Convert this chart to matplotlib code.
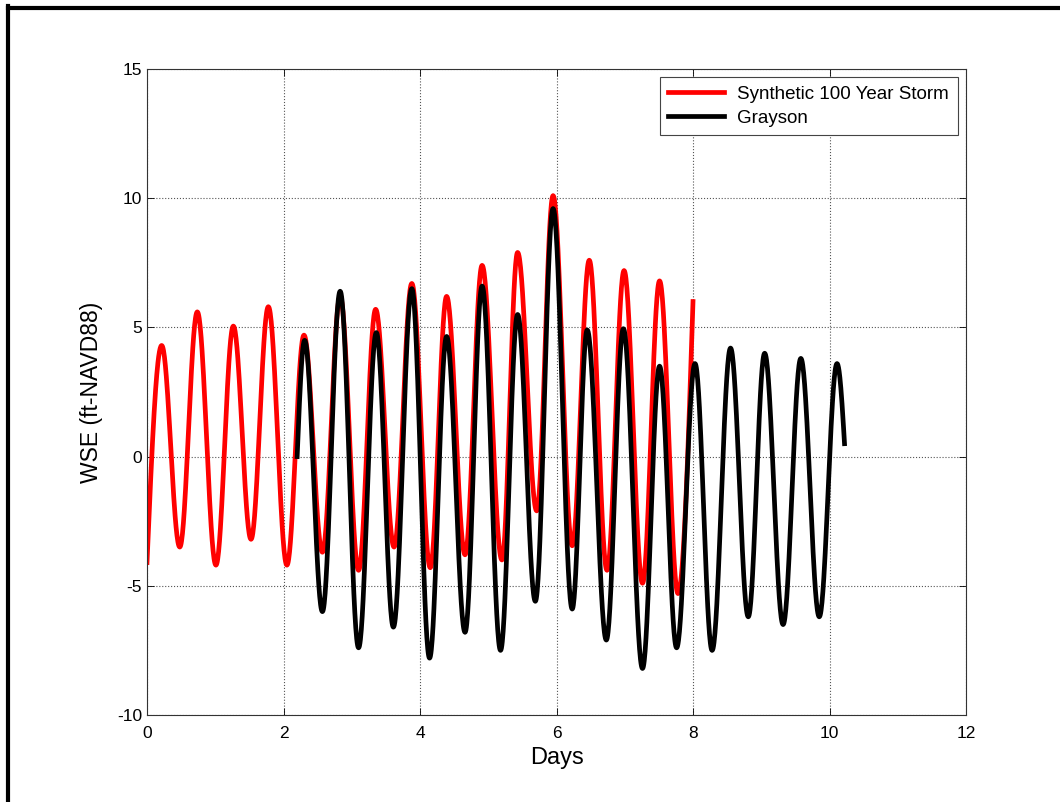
import numpy as np
import matplotlib
matplotlib.use('Agg')
import matplotlib.pyplot as plt
from matplotlib.lines import Line2D

plt.rcParams['font.family'] = ['Liberation Sans', 'DejaVu Sans']
plt.rcParams['axes.unicode_minus'] = False

# turning points (day, WSE ft-NAVD88)
storm_days = [0.0, 0.215, 0.48, 0.737, 1.01, 1.265, 1.524, 1.778, 2.05, 2.30, 2.57,
              2.83, 3.10, 3.35, 3.62, 3.88, 4.15, 4.39, 4.66, 4.91, 5.20, 5.43,
              5.71, 5.95, 6.23, 6.48, 6.74, 6.99, 7.26, 7.51, 7.78, 8.0]
storm_wse = [-4.1, 4.3, -3.5, 5.6, -4.2, 5.05, -3.2, 5.8, -4.2, 4.7, -3.7,
             6.2, -4.4, 5.7, -3.5, 6.7, -4.3, 6.2, -3.8, 7.4, -4.0, 7.9,
             -2.1, 10.1, -3.45, 7.6, -4.4, 7.2, -4.9, 6.8, -5.3, 6.0]

grayson_days = [2.2, 2.31, 2.57, 2.83, 3.10, 3.36, 3.61, 3.88, 4.14, 4.39, 4.66,
                4.91, 5.18, 5.43, 5.69, 5.95, 6.23, 6.45, 6.73, 6.98, 7.26, 7.51,
                7.76, 8.03, 8.28, 8.55, 8.81, 9.05, 9.32, 9.58, 9.85, 10.11, 10.22]
grayson_wse = [0.0, 4.5, -6.0, 6.4, -7.4, 4.8, -6.6, 6.5, -7.8, 4.65, -6.8,
               6.6, -7.5, 5.5, -5.6, 9.6, -5.9, 4.9, -7.1, 4.95, -8.2, 3.5,
               -7.4, 3.6, -7.5, 4.2, -6.2, 4.0, -6.5, 3.8, -6.2, 3.6, 0.5]


def tide_curve(days, wse, n=40):
    # smooth half-cosine between successive highs and lows
    xs, ys = [], []
    last = len(days) - 2
    for i in range(len(days) - 1):
        t0, t1 = days[i], days[i + 1]
        v0, v1 = wse[i], wse[i + 1]
        s = np.linspace(0, 1, n)
        if i == 0:
            f = np.sin(np.pi / 2 * s)
        elif i == last:
            f = 1 - np.cos(np.pi / 2 * s)
        else:
            f = (1 - np.cos(np.pi * s)) / 2
        xs.append(t0 + (t1 - t0) * s)
        ys.append(v0 + (v1 - v0) * f)
    return np.concatenate(xs), np.concatenate(ys)


fig = plt.figure(figsize=(10.6, 8.02), dpi=100)
ax = fig.add_axes([147 / 1060, 1 - 715 / 802, 819 / 1060, 646 / 802])

x1, y1 = tide_curve(storm_days, storm_wse)
x2, y2 = tide_curve(grayson_days, grayson_wse)
ax.plot(x1, y1, color='red', linewidth=3.4, label='Synthetic 100 Year Storm')
ax.plot(x2, y2, color='black', linewidth=3.4, label='Grayson')

ax.set_xlim(0, 12)
ax.set_ylim(-10, 15)
ax.set_xticks(range(0, 13, 2))
ax.set_yticks(range(-10, 16, 5))
ax.tick_params(direction='in', top=True, right=True, labelsize=12.5, length=5, width=0.6)
ax.tick_params(axis='x', pad=8)
ax.grid(True, linestyle=':', color='#555555', linewidth=0.8)
for sp in ax.spines.values():
    sp.set_linewidth(0.8)
    sp.set_color('#333333')

ax.set_xlabel('Days', fontsize=17, labelpad=4)
ax.set_ylabel('WSE (ft-NAVD88)', fontsize=16.5, labelpad=10)

leg = ax.legend(loc='upper right', fontsize=13.5, handlelength=3.0, handletextpad=0.7,
                fancybox=False, framealpha=1, edgecolor='#444444',
                borderaxespad=0.45, labelspacing=0.35, borderpad=0.45)
leg.get_frame().set_linewidth(0.8)

# outer black frame (top and left edges visible)
fig.add_artist(Line2D([8 / 1060, 1.0], [1 - 8 / 802, 1 - 8 / 802],
                      transform=fig.transFigure, color='black', linewidth=3))
fig.add_artist(Line2D([8 / 1060, 8 / 1060], [0.0, 1 - 6 / 802],
                      transform=fig.transFigure, color='black', linewidth=3))

fig.savefig('out.png', dpi=100)
